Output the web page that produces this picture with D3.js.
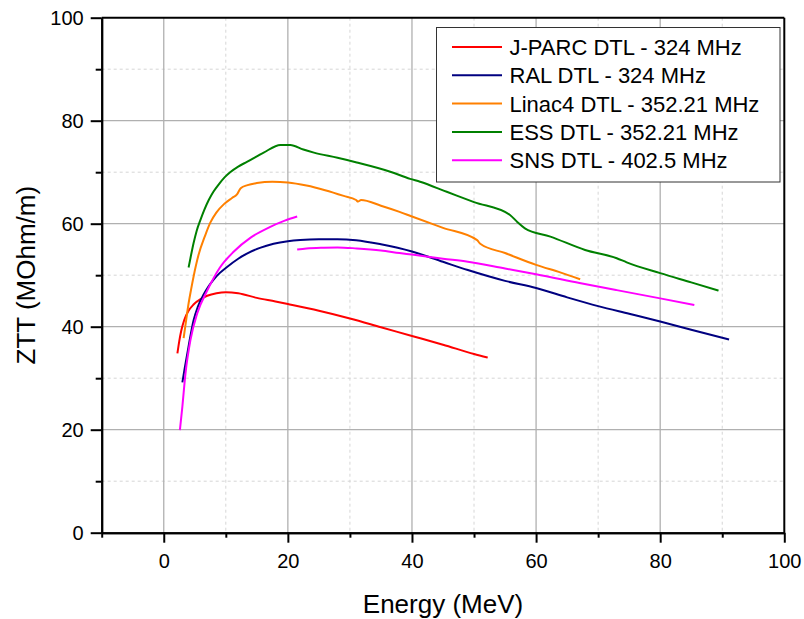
<!DOCTYPE html>
<html>
<head>
<meta charset="utf-8">
<script src="https://cdn.jsdelivr.net/npm/d3@7"></script>
<style>
  html, body { margin: 0; padding: 0; background: #fff; }
  svg { display: block; font-family: "Liberation Sans", Arial, sans-serif; }
</style>
</head>
<body>
<svg id="chart" width="804" height="619"></svg>
<script>
// Shunt impedance (ZTT) versus beam energy for several DTL designs
const seriesNames = [
  "J-PARC DTL - 324 MHz",
  "RAL DTL - 324 MHz",
  "Linac4 DTL - 352.21 MHz",
  "ESS DTL - 352.21 MHz",
  "SNS DTL - 402.5 MHz"
];
const seriesColors = ["#ff0000", "#000080", "#ff8000", "#008000", "#ff00ff"];

// [energy MeV, ZTT MOhm/m]
const jparc = [[2.2,34.8],[2.5,37.2],[2.8,39.1],[3.3,41.3],[4.0,43.1],[4.8,44.3],[6.0,45.4],[7.0,46.0],[8.5,46.5],[10,46.7],[12,46.5],[15,45.6],[18,44.9],[20,44.4],[25,43.1],[30,41.6],[35,39.9],[40,38.2],[45,36.5],[50,34.7],[52.2,34.0]];
const ral = [[3.0,29.2],[3.4,32.1],[3.8,34.8],[4.3,38.2],[4.8,41.2],[5.5,43.9],[6.4,46.2],[7.2,47.8],[8.0,49.1],[9.0,50.4],[10.2,51.6],[12,53.2],[13.4,54.2],[15.5,55.3],[17.7,56.1],[20,56.6],[22,56.85],[25,57.0],[28,57.0],[31,56.8],[35,56.0],[40,54.6],[45,52.6],[49,51.0],[55,48.9],[60,47.5],[65,45.7],[70,44.0],[75,42.5],[80,41.0],[85,39.4],[91.1,37.5]];
const linac4 = [[3.2,37.8],[3.6,41.2],[4.0,44.5],[4.4,47.2],[4.8,49.7],[5.6,53.9],[6.7,57.8],[7.5,60.2],[8.5,62.2],[9.7,63.8],[11,65.0],[11.8,65.7],[12.4,66.9],[13.5,67.5],[15,67.9],[17.5,68.15],[20,68.0],[23,67.4],[26,66.5],[29,65.4],[31,64.6],[31.3,64.3],[31.8,64.6],[35,63.5],[38,62.3],[40,61.4],[45,59.2],[50.5,56.8],[51,56.1],[55,54.3],[60,52.0],[64,50.5],[67.1,49.2]];
const ess = [[4.0,51.5],[4.3,53.3],[4.8,56.2],[5.3,58.6],[5.9,60.7],[6.5,62.6],[7.25,64.6],[8.0,66.2],[8.9,67.7],[9.8,69.0],[10.7,70.0],[12,71.1],[13.4,72.0],[16.1,73.8],[18.8,75.3],[20.4,75.3],[22.5,74.4],[24.2,73.8],[28,72.8],[31.1,71.9],[36.5,70.1],[39.7,68.7],[41.3,68.15],[45.6,66.2],[50,64.2],[55.8,61.7],[57,60.3],[58.2,59.1],[62.3,57.5],[67.9,54.9],[73,53.3],[74.6,52.5],[80,50.4],[85,48.6],[89.4,47.0]];
const snsLow = [[2.6,19.9],[3.0,24.5],[3.5,30.9],[4.3,37.4],[5.4,42.6],[7.0,47.0],[9.0,51.4],[11.3,54.6],[14,57.3],[17,59.3],[19.5,60.6],[21.5,61.4]];
const snsHigh = [[21.5,55.0],[23,55.2],[25.8,55.35],[28,55.4],[31.1,55.2],[35,54.8],[38,54.3],[40,54.0],[45,53.2],[49,52.6],[55,51.3],[60,50.2],[67,48.5],[73,47.1],[80,45.5],[85.5,44.2]];

const xMajorTicks = [0, 20, 40, 60, 80, 100];
const xMinorTicks = [-10, 10, 30, 50, 70, 90];
const yMajorTicks = [0, 20, 40, 60, 80, 100];
const yMinorTicks = [10, 30, 50, 70, 90];

const xLabel = "Energy (MeV)";
const yLabel = "ZTT (MOhm/m)";

const plotLeft = 101.7, plotRight = 784.3, plotTop = 17.7, plotBottom = 532.7;

const svg = d3.select("#chart");
const x = d3.scaleLinear().domain([-10, 100]).range([plotLeft, plotRight]);
const y = d3.scaleLinear().domain([0, 100]).range([plotBottom, plotTop]);

// grid
const grid = svg.append("g");
grid.selectAll(".vminor").data(xMinorTicks.filter(d => d > -10)).enter().append("line")
  .attr("x1", d => x(d)).attr("x2", d => x(d)).attr("y1", plotTop).attr("y2", plotBottom)
  .attr("stroke", "#d6d6d6").attr("stroke-width", 1).attr("stroke-dasharray", "3,3");
grid.selectAll(".hminor").data(yMinorTicks).enter().append("line")
  .attr("x1", plotLeft).attr("x2", plotRight).attr("y1", d => y(d)).attr("y2", d => y(d))
  .attr("stroke", "#d6d6d6").attr("stroke-width", 1).attr("stroke-dasharray", "3,3");
grid.selectAll(".vmajor").data(xMajorTicks.filter(d => d < 100)).enter().append("line")
  .attr("x1", d => x(d)).attr("x2", d => x(d)).attr("y1", plotTop).attr("y2", plotBottom)
  .attr("stroke", "#b0b0b0").attr("stroke-width", 1.3);
grid.selectAll(".hmajor").data(yMajorTicks.filter(d => d > 0 && d < 100)).enter().append("line")
  .attr("x1", plotLeft).attr("x2", plotRight).attr("y1", d => y(d)).attr("y2", d => y(d))
  .attr("stroke", "#b0b0b0").attr("stroke-width", 1.3);

// data lines
const line = d3.line().x(d => x(d[0])).y(d => y(d[1])).curve(d3.curveMonotoneX);
const curves = [
  { data: jparc, color: seriesColors[0] },
  { data: ral, color: seriesColors[1] },
  { data: linac4, color: seriesColors[2] },
  { data: ess, color: seriesColors[3] },
  { data: snsLow, color: seriesColors[4] },
  { data: snsHigh, color: seriesColors[4] }
];
svg.append("g").selectAll("path").data(curves).enter().append("path")
  .attr("d", d => line(d.data))
  .attr("fill", "none")
  .attr("stroke", d => d.color)
  .attr("stroke-width", 2)
  .attr("stroke-linejoin", "round");

// frame (top and right)
svg.append("line").attr("x1", plotLeft).attr("x2", plotRight).attr("y1", plotTop).attr("y2", plotTop)
  .attr("stroke", "#000").attr("stroke-width", 2);
svg.append("line").attr("x1", plotRight).attr("x2", plotRight).attr("y1", plotTop).attr("y2", plotBottom)
  .attr("stroke", "#000").attr("stroke-width", 2);

// axes
function styleAxis(g) {
  g.select(".domain").attr("stroke", "#000").attr("stroke-width", 2);
  g.selectAll(".tick line").attr("stroke", "#000").attr("stroke-width", 2);
  g.selectAll(".tick text").attr("fill", "#000").attr("font-size", 20)
    .attr("font-family", "'Liberation Sans', Arial, sans-serif");
}
const xMinorAxis = svg.append("g").attr("transform", `translate(0,${plotBottom})`)
  .call(d3.axisBottom(x).tickValues(xMinorTicks).tickSize(5).tickFormat("").tickSizeOuter(0));
styleAxis(xMinorAxis);
const xAxis = svg.append("g").attr("transform", `translate(0,${plotBottom})`)
  .call(d3.axisBottom(x).tickValues(xMajorTicks).tickSize(10).tickPadding(11).tickSizeOuter(0));
styleAxis(xAxis);

const yMinorAxis = svg.append("g").attr("transform", `translate(${plotLeft},0)`)
  .call(d3.axisLeft(y).tickValues(yMinorTicks).tickSize(6).tickFormat("").tickSizeOuter(0));
styleAxis(yMinorAxis);
const yAxis = svg.append("g").attr("transform", `translate(${plotLeft},0)`)
  .call(d3.axisLeft(y).tickValues(yMajorTicks).tickSize(11).tickPadding(7).tickSizeOuter(0));
styleAxis(yAxis);

// axis titles
svg.append("text").attr("x", (plotLeft + plotRight) / 2).attr("y", 613)
  .attr("text-anchor", "middle").attr("font-size", 26).attr("fill", "#000").text(xLabel);
svg.append("text").attr("transform", `translate(35,${(plotTop + plotBottom) / 2}) rotate(-90)`)
  .attr("text-anchor", "middle").attr("font-size", 26).attr("fill", "#000").text(yLabel);

// legend
const legend = svg.append("g").attr("transform", "translate(436.5,27.5)");
legend.append("rect").attr("width", 343.5).attr("height", 154.5)
  .attr("fill", "#fff").attr("stroke", "#333").attr("stroke-width", 1);
const rows = legend.selectAll(".row").data(seriesNames).enter().append("g")
  .attr("transform", (d, i) => `translate(0,${19.5 + i * 28.3})`);
rows.append("line").attr("x1", 15.5).attr("x2", 65.5).attr("y1", 0).attr("y2", 0)
  .attr("stroke", (d, i) => seriesColors[i]).attr("stroke-width", 2);
rows.append("text").attr("x", 73).attr("y", 0).attr("dy", "0.36em")
  .attr("font-size", 22).attr("fill", "#000").text(d => d);
</script>
</body>
</html>
